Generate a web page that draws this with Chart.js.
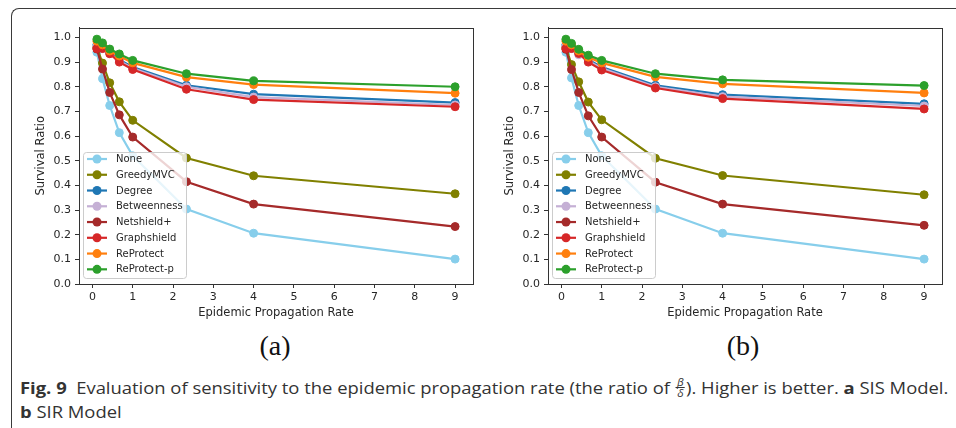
<!DOCTYPE html>
<html>
<head>
<meta charset="utf-8">
<script src="https://cdn.jsdelivr.net/npm/chart.js@4.4.1/dist/chart.umd.min.js"></script>
<style>
  html, body { margin: 0; padding: 0; background: #fff; }
  body { width: 956px; height: 428px; position: relative; overflow: hidden; }
  #frame { position: absolute; left: 11px; top: 8px; width: 1200px; height: 800px;
           border-top: 1px solid #3a3a3a; border-left: 1px solid #3a3a3a; border-top-left-radius: 8px; }
  canvas { position: absolute; }
  #chartA { left: 14px; top: 17px; }
  #chartB { left: 483px; top: 17px; }
  .panel { position: absolute; font-family: "Liberation Serif", serif; font-size: 28px; color: #111;
           transform: translate(-50%, -50%); white-space: nowrap; }
  #caption { position: absolute; left: 20px; top: 376px; font-family: "Open Sans", sans-serif;
             font-size: 16px; color: #333; transform-origin: 0 0; line-height: 24px; }
  #caption div { white-space: nowrap; }
  .frac { display: inline-block; vertical-align: middle; text-align: center; font-size: 10px;
          font-style: italic; line-height: 10px; margin: 0 1px; position: relative; top: -2px; }
  .frac span { display: block; }
  .frac .num { border-bottom: 1px solid #333; padding: 0 1px; }
</style>
</head>
<body>
<div id="frame"></div>
<canvas id="chartA" width="468" height="310"></canvas>
<canvas id="chartB" width="468" height="310"></canvas>
<div class="panel" style="left:275px; top:346px;">(a)</div>
<div class="panel" style="left:743px; top:346px;">(b)</div>
<div id="caption">
  <div id="capLine1"><b>Fig. 9</b>&nbsp; Evaluation of sensitivity to the epidemic propagation rate (the ratio of <span class="frac"><span class="num">β</span><span>δ</span></span>). Higher is better. <b>a</b> SIS Model.</div>
  <div><b>b</b> SIR Model</div>
</div>
<script>
// --- data ---
const rates = [0.111, 0.25, 0.429, 0.667, 1, 2.333, 4, 9];
const xTicks = [0, 1, 2, 3, 4, 5, 6, 7, 8, 9];
const yTicks = [0, 0.1, 0.2, 0.3, 0.4, 0.5, 0.6, 0.7, 0.8, 0.9, 1.0];

const seriesNames = ['None', 'GreedyMVC', 'Degree', 'Betweenness', 'Netshield+', 'Graphshield', 'ReProtect', 'ReProtect-p'];
const seriesColors = ['#87ceeb', '#808000', '#1f77b4', '#c5b0d5', '#a52a2a', '#d62728', '#ff7f0e', '#2ca02c'];

// (a) SIS model
const sisNone        = [0.940, 0.833, 0.724, 0.614, 0.520, 0.304, 0.206, 0.101];
const sisGreedyMVC   = [0.960, 0.896, 0.816, 0.739, 0.664, 0.511, 0.439, 0.366];
const sisDegree      = [0.970, 0.960, 0.940, 0.910, 0.880, 0.806, 0.770, 0.736];
const sisBetweenness = [0.965, 0.955, 0.935, 0.905, 0.875, 0.800, 0.758, 0.726];
const sisNetshield   = [0.953, 0.872, 0.777, 0.686, 0.596, 0.415, 0.324, 0.233];
const sisGraphshield = [0.955, 0.955, 0.934, 0.900, 0.870, 0.790, 0.748, 0.719];
const sisReProtect   = [0.985, 0.970, 0.945, 0.925, 0.897, 0.839, 0.809, 0.774];
const sisReProtectP  = [0.993, 0.978, 0.953, 0.933, 0.907, 0.853, 0.824, 0.800];

// (b) SIR model
const sirNone        = [0.940, 0.836, 0.724, 0.614, 0.520, 0.304, 0.206, 0.101];
const sirGreedyMVC   = [0.960, 0.890, 0.820, 0.738, 0.666, 0.510, 0.440, 0.362];
const sirDegree      = [0.970, 0.960, 0.935, 0.910, 0.880, 0.806, 0.768, 0.731];
const sirBetweenness = [0.965, 0.955, 0.930, 0.905, 0.875, 0.800, 0.760, 0.722];
const sirNetshield   = [0.952, 0.870, 0.777, 0.682, 0.596, 0.413, 0.324, 0.238];
const sirGraphshield = [0.955, 0.955, 0.935, 0.900, 0.868, 0.795, 0.752, 0.710];
const sirReProtect   = [0.985, 0.970, 0.945, 0.920, 0.897, 0.840, 0.812, 0.775];
const sirReProtectP  = [0.993, 0.976, 0.952, 0.928, 0.907, 0.853, 0.828, 0.805];

const sisSeries = [sisNone, sisGreedyMVC, sisDegree, sisBetweenness, sisNetshield, sisGraphshield, sisReProtect, sisReProtectP];
const sirSeries = [sirNone, sirGreedyMVC, sirDegree, sirBetweenness, sirNetshield, sirGraphshield, sirReProtect, sirReProtectP];

const axisColor = '#333';
const textColor = '#262626';
const tickFont = { family: 'DejaVu Sans', size: 11 };
const titleFont = { family: 'DejaVu Sans', size: 11.5 };

// box around the plot area, like matplotlib spines
const framePlugin = {
    id: 'frame',
    afterDraw(chart) {
        const a = chart.chartArea, ctx = chart.ctx;
        ctx.save();
        ctx.strokeStyle = axisColor;
        ctx.lineWidth = 1;
        ctx.strokeRect(Math.round(a.left) + 0.5, Math.round(a.top) + 0.5,
                       Math.round(a.right - a.left), Math.round(a.bottom - a.top));
        ctx.restore();
    }
};

// legend inside the lower left corner of the plot
const innerLegend = {
    id: 'innerLegend',
    afterDatasetsDraw(chart) {
        const a = chart.chartArea, ctx = chart.ctx;
        const w = 103, h = 126, rowH = 15.76;
        const x0 = a.left + 4, y0 = a.bottom - 6 - h;
        ctx.save();
        ctx.beginPath();
        ctx.roundRect(x0 + 0.5, y0 + 0.5, w, h, 3);
        ctx.fillStyle = 'rgba(255,255,255,0.8)';
        ctx.fill();
        ctx.strokeStyle = '#cccccc';
        ctx.lineWidth = 1;
        ctx.stroke();
        ctx.font = '10px "DejaVu Sans"';
        ctx.textBaseline = 'middle';
        seriesNames.forEach((name, i) => {
            const y = y0 + 7 + i * rowH;
            ctx.strokeStyle = seriesColors[i];
            ctx.lineWidth = 2.2;
            ctx.beginPath();
            ctx.moveTo(x0 + 4, y);
            ctx.lineTo(x0 + 24, y);
            ctx.stroke();
            ctx.fillStyle = seriesColors[i];
            ctx.beginPath();
            ctx.arc(x0 + 14, y, 4.5, 0, Math.PI * 2);
            ctx.fill();
            ctx.fillStyle = textColor;
            ctx.fillText(name, x0 + 33, y + 0.5);
        });
        ctx.restore();
    }
};

function makeChart(id, series) {
    const datasets = seriesNames.map((name, i) => ({
        label: name,
        data: rates.map((r, j) => ({ x: r, y: series[i][j] })),
        borderColor: seriesColors[i],
        backgroundColor: seriesColors[i],
        pointBackgroundColor: seriesColors[i],
        pointBorderColor: seriesColors[i],
        borderWidth: 2.2,
        pointRadius: 4,
        pointBorderWidth: 1,
        order: -i
    }));
    return new Chart(document.getElementById(id).getContext('2d'), {
        type: 'line',
        data: { datasets },
        options: {
            responsive: false,
            animation: false,
            events: [],
            layout: { padding: { top: 10, right: 9, left: 0, bottom: 0 } },
            plugins: { legend: { display: false }, tooltip: { enabled: false } },
            scales: {
                x: {
                    type: 'linear',
                    min: -0.333,
                    max: 9.444,
                    afterBuildTicks: s => { s.ticks = xTicks.map(v => ({ value: v })); },
                    afterFit: s => { s.height = 43; },
                    ticks: { callback: v => String(v), color: textColor, font: tickFont, padding: 3, maxRotation: 0 },
                    grid: { display: true, drawOnChartArea: false, drawTicks: true, tickLength: 4, color: axisColor },
                    border: { display: true, color: axisColor },
                    title: { display: true, text: 'Epidemic Propagation Rate', color: textColor, font: titleFont, padding: { top: 0, bottom: 7 } }
                },
                y: {
                    type: 'linear',
                    min: 0,
                    max: 1.04,
                    afterBuildTicks: s => { s.ticks = yTicks.map(v => ({ value: v })); },
                    afterFit: s => { s.width = 65; },
                    ticks: { callback: v => v.toFixed(1), color: textColor, font: tickFont, padding: 4 },
                    grid: { display: true, drawOnChartArea: false, drawTicks: true, tickLength: 4, color: axisColor },
                    border: { display: true, color: axisColor },
                    title: { display: true, text: 'Survival Ratio', color: textColor, font: titleFont, padding: { top: 20, bottom: 0 } }
                }
            }
        },
        plugins: [innerLegend, framePlugin]
    });
}

makeChart('chartA', sisSeries);
makeChart('chartB', sirSeries);

// squeeze the caption to the width it takes in the figure
const cap = document.getElementById('caption');
const line1 = document.getElementById('capLine1');
const sx = 928 / line1.scrollWidth;
cap.style.transform = 'scaleX(' + sx.toFixed(3) + ')';
</script>
</body>
</html>
